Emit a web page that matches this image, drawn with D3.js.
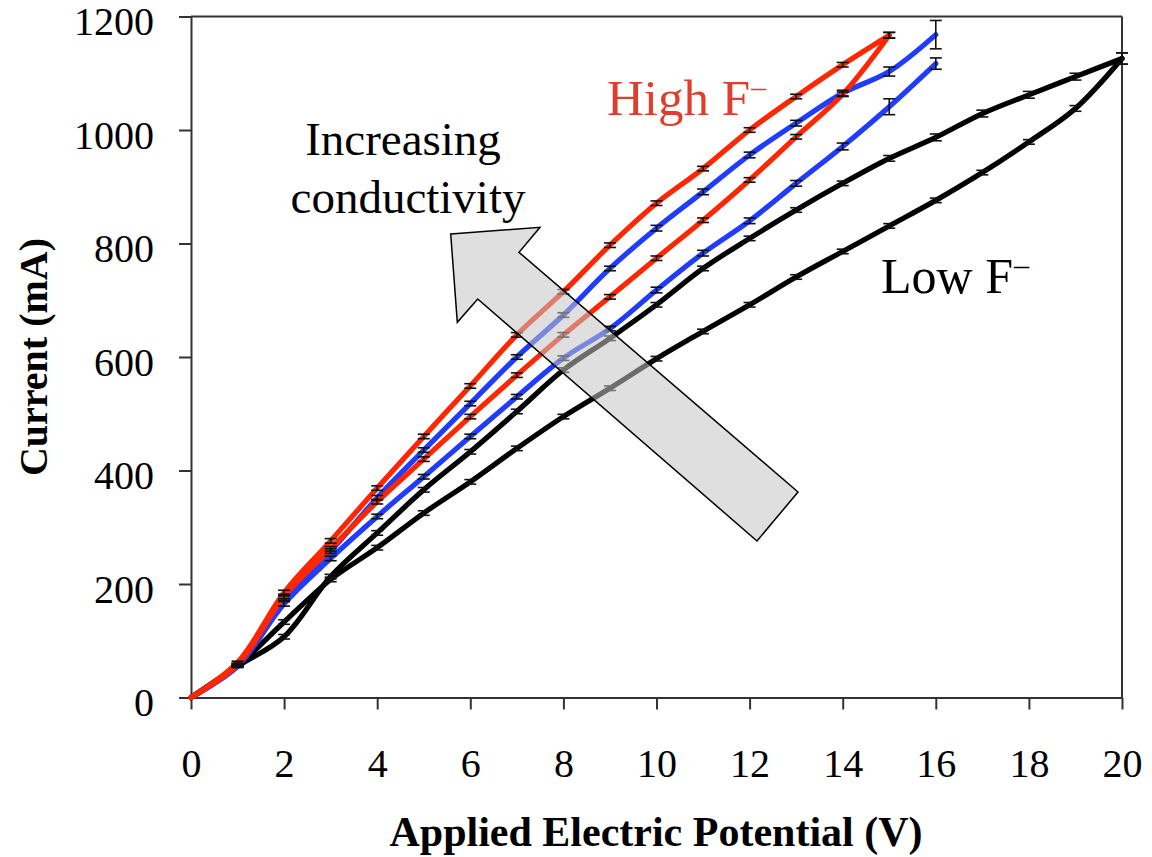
<!DOCTYPE html>
<html>
<head>
<meta charset="utf-8">
<script src="https://cdn.jsdelivr.net/npm/d3@7/dist/d3.min.js"></script>
<style>
  html, body { margin: 0; padding: 0; background: #fff; }
  svg { display: block; }
  text { font-family: "Liberation Serif", "Times New Roman", serif; }
</style>
</head>
<body>
<svg id="chart" width="1152" height="857"></svg>
<script>
// ---- data ----
const xTicks = [0, 2, 4, 6, 8, 10, 12, 14, 16, 18, 20];
const yTicks = [0, 200, 400, 600, 800, 1000, 1200];

const blackX = [0,1,2,3,4,5,6,7,8,9,10,11,12,13,14,15,16,17,18,19,20];
const blackUpper = [0,55,107,213,290,366,433,504,577,633,692,756,809,859,906,950,987,1029,1062,1094,1126];
const blackUpperErr = [0,2,4,4,4,4,4,4,4,4,4,4,4,4,4,5,6,6,6,6,10];
const blackLower = [0,56,133,208,264,325,380,439,495,545,597,645,692,741,786,831,876,925,979,1038,1126];
const blackLowerErr = [0,2,4,4,4,4,4,4,4,4,4,4,4,4,4,4,4,4,4,5,10];

const blueX = [0,1,2,3,4,5,6,7,8,9,10,11,12,13,14,15,16];
const blueUpper = [0,58,175,258,352,436,518,600,674,756,827,891,956,1012,1065,1103,1168];
const blueUpperErr = [0,2,4,4,4,4,4,4,4,4,5,5,5,5,5,8,25];
const blueLower = [0,55,165,245,319,389,460,530,598,650,718,783,840,906,971,1041,1117];
const blueLowerErr = [0,2,4,4,4,4,4,4,4,4,5,5,5,5,6,14,10];

const redX = [0,1,2,3,4,5,6,7,8,9,10,11,12,13,14,15];
const redUpper = [0,62,185,276,369,460,549,639,715,797,871,932,1000,1059,1115,1167];
const redUpperErr = [0,2,4,4,4,4,4,4,4,4,4,4,4,4,4,5];
const redLower = [0,58,178,262,345,420,495,568,639,706,774,841,912,988,1063,1167];
const redLowerErr = [0,2,4,4,4,4,4,4,4,4,4,4,4,4,4,5];

// arrow annotation outline, in data units (V, mA)
const arrowX = [5.579, 7.497, 7.046, 13.04, 12.159, 6.159, 5.721];
const arrowY = [816.7, 828.5, 784.5, 362.1, 275.8, 702.2, 661.1];

// ---- chart ----
const svg = d3.select("#chart");
const x = d3.scaleLinear().domain([0, 20]).range([191, 1122]);
const y = d3.scaleLinear().domain([0, 1200]).range([697.5, 16.5]);
const axisColor = "#333";
const serif = '"Liberation Serif", "Times New Roman", serif';

// frame (top and right)
svg.append("line").attr("x1", x(0)).attr("x2", x(20)).attr("y1", y(1200)).attr("y2", y(1200))
  .attr("stroke", axisColor).attr("stroke-width", 2);
svg.append("line").attr("x1", x(20)).attr("x2", x(20)).attr("y1", y(1200)).attr("y2", y(0))
  .attr("stroke", axisColor).attr("stroke-width", 2);

// x axis
const gx = svg.append("g").attr("transform", `translate(0,${y(0)})`)
  .call(d3.axisBottom(x).tickValues(xTicks).tickSize(12).tickSizeOuter(0).tickFormat(d3.format("d")));
gx.select(".domain").attr("stroke", axisColor).attr("stroke-width", 2);
gx.selectAll(".tick line").attr("stroke", axisColor).attr("stroke-width", 2);
gx.selectAll(".tick text").attr("y", 79.5).attr("dy", null)
  .attr("font-size", 40).attr("fill", "#000").style("font-family", serif);

// y axis
const gy = svg.append("g").attr("transform", `translate(${x(0)},0)`)
  .call(d3.axisLeft(y).tickValues(yTicks).tickSize(12).tickSizeOuter(0).tickFormat(d3.format("d")));
gy.select(".domain").attr("stroke", axisColor).attr("stroke-width", 2);
gy.selectAll(".tick line").attr("stroke", axisColor).attr("stroke-width", 2);
gy.selectAll(".tick text").attr("x", -37).attr("dy", null).attr("y", 18)
  .attr("font-size", 40).attr("fill", "#000").style("font-family", serif);

// axis titles
svg.append("text").attr("x", 656).attr("y", 846).attr("text-anchor", "middle")
  .attr("font-size", 42).attr("font-weight", "bold").text("Applied Electric Potential (V)");
svg.append("text").attr("transform", "translate(47,357) rotate(-90)").attr("text-anchor", "middle")
  .attr("font-size", 40).attr("font-weight", "bold").text("Current (mA)");

// series
const line = d3.line().x(d => x(d[0])).y(d => y(d[1])).curve(d3.curveCatmullRom.alpha(0.5));
const series = [
  { xs: blackX, ys: blackUpper, err: blackUpperErr, color: "#000" },
  { xs: blackX, ys: blackLower, err: blackLowerErr, color: "#000" },
  { xs: blueX, ys: blueUpper, err: blueUpperErr, color: "#1f3cff" },
  { xs: blueX, ys: blueLower, err: blueLowerErr, color: "#1f3cff" },
  { xs: redX, ys: redUpper, err: redUpperErr, color: "#ff2600" },
  { xs: redX, ys: redLower, err: redLowerErr, color: "#ff2600" }
];
const gLines = svg.append("g");
series.forEach(s => {
  const pts = s.xs.map((v, i) => [v, s.ys[i]]);
  gLines.append("path").datum(pts).attr("d", line)
    .attr("fill", "none").attr("stroke", s.color).attr("stroke-width", 5.2)
    .attr("stroke-linejoin", "round").attr("stroke-linecap", "round");
});

// error bars
const gErr = svg.append("g").attr("stroke", "#111").attr("stroke-width", 1.6);
series.forEach(s => {
  s.xs.forEach((v, i) => {
    if (v === 0) return;
    const e = s.err[i];
    const cx = x(v), y1 = y(s.ys[i] + e), y2 = y(s.ys[i] - e);
    gErr.append("line").attr("x1", cx).attr("x2", cx).attr("y1", y1).attr("y2", y2);
    gErr.append("line").attr("x1", cx - 6).attr("x2", cx + 6).attr("y1", y1).attr("y2", y1);
    gErr.append("line").attr("x1", cx - 6).attr("x2", cx + 6).attr("y1", y2).attr("y2", y2);
  });
});

// arrow annotation
const arrowPts = arrowX.map((v, i) => [x(v), y(arrowY[i])]);
svg.append("polygon").attr("points", arrowPts.map(p => p.join(",")).join(" "))
  .attr("fill", "#c4c4c4").attr("fill-opacity", 0.55)
  .attr("stroke", "#000").attr("stroke-width", 1.5).attr("stroke-linejoin", "miter");

// text annotations
const hi = svg.append("text").attr("x", 607).attr("y", 115).attr("font-size", 51).attr("fill", "#de3e2b");
hi.append("tspan").text("High F");
hi.append("tspan").attr("font-size", 30).attr("dy", -18).attr("dx", 1).text("\u2013");

svg.append("text").attr("x", 403).attr("y", 155).attr("text-anchor", "middle").attr("font-size", 47).text("Increasing");
svg.append("text").attr("x", 408).attr("y", 213).attr("text-anchor", "middle").attr("font-size", 47).text("conductivity");

const lo = svg.append("text").attr("x", 881).attr("y", 293).attr("font-size", 50).attr("fill", "#000");
lo.append("tspan").text("Low F");
lo.append("tspan").attr("font-size", 30).attr("dy", -18).attr("dx", 1).text("\u2013");
</script>
</body>
</html>
